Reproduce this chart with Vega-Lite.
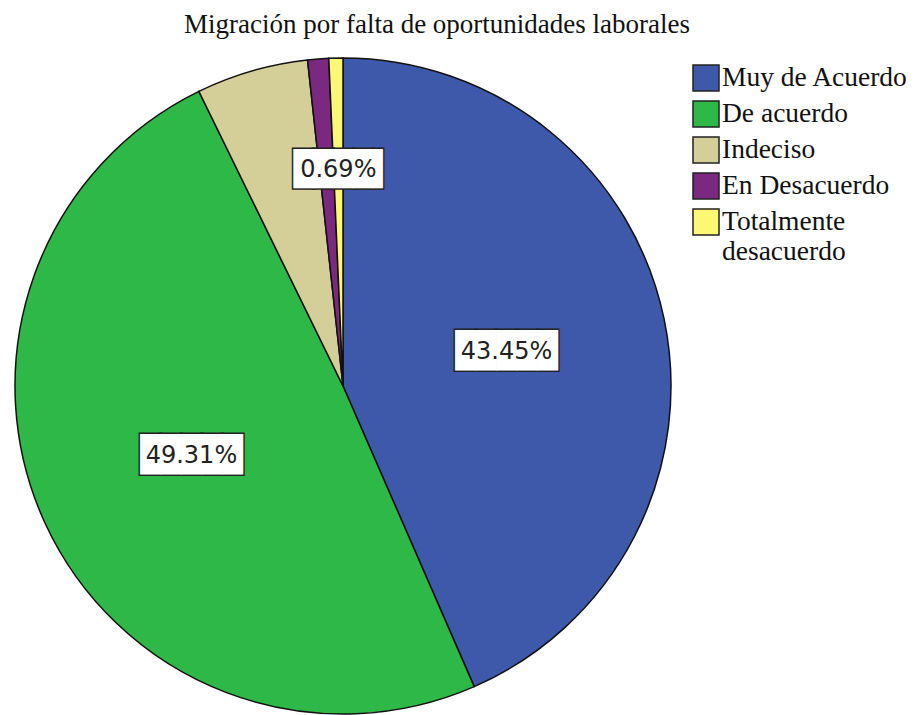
{
  "$schema": "https://vega.github.io/schema/vega-lite/v6.json",
  "autosize": {"type": "none"},
  "width": 686,
  "height": 656,
  "padding": {"left": 0, "top": 58, "right": 238, "bottom": 1},
  "background": "white",
  "title": {
    "text": "Migración por falta de oportunidades laborales",
    "font": "Liberation Serif",
    "fontSize": 27,
    "fontWeight": "normal",
    "color": "#111111",
    "anchor": "middle",
    "frame": "group",
    "baseline": "alphabetic",
    "offset": 25,
    "dx": 94,
    "dy": 30
  },
  "data": {
    "values": [
      {"cat": "Muy de Acuerdo", "n": 126, "ord": 1, "label": "43.45%"},
      {"cat": "De acuerdo", "n": 143, "ord": 2, "label": "49.31%"},
      {"cat": "Indeciso", "n": 16, "ord": 3, "label": ""},
      {"cat": "En Desacuerdo", "n": 3, "ord": 4, "label": ""},
      {"cat": "Totalmente desacuerdo", "n": 2, "ord": 5, "label": "0.69%"}
    ]
  },
  "encoding": {
    "theta": {"field": "n", "type": "quantitative", "stack": true},
    "order": {"field": "ord", "type": "quantitative"}
  },
  "layer": [
    {
      "mark": {"type": "arc", "outerRadius": 328, "stroke": "#111111", "strokeWidth": 1.5},
      "encoding": {
        "color": {
          "field": "cat",
          "type": "nominal",
          "sort": ["Muy de Acuerdo", "De acuerdo", "Indeciso", "En Desacuerdo", "Totalmente desacuerdo"],
          "scale": {
            "domain": ["Muy de Acuerdo", "De acuerdo", "Indeciso", "En Desacuerdo", "Totalmente desacuerdo"],
            "range": ["#3E58AA", "#2EB848", "#D4CE98", "#7A2880", "#FCF873"]
          },
          "legend": {
            "title": null,
            "orient": "none",
            "legendX": 692,
            "legendY": 6,
            "symbolType": "square",
            "symbolSize": 676,
            "symbolStrokeColor": "#222222",
            "symbolStrokeWidth": 1.5,
            "symbolOpacity": 1,
            "labelFont": "Liberation Serif",
            "labelFontSize": 27.5,
            "labelColor": "#111111",
            "labelLimit": 400,
            "labelOffset": 2,
            "rowPadding": 4,
            "labelExpr": "datum.label == 'Totalmente desacuerdo' ? ['Totalmente', 'desacuerdo'] : datum.label"
          }
        }
      }
    },
    {
      "mark": {"type": "text", "radius": 167, "font": "DejaVu Sans Mono", "fontSize": 34, "stroke": "#222222", "strokeWidth": 3, "fill": "#222222", "baseline": "middle", "align": "center"},
      "encoding": {
        "text": {"condition": {"test": "datum.ord <= 2", "value": "█████"}, "value": ""}
      }
    },
    {
      "mark": {"type": "text", "radius": 167, "font": "DejaVu Sans Mono", "fontSize": 34, "fill": "white", "baseline": "middle", "align": "center"},
      "encoding": {
        "text": {"condition": {"test": "datum.ord <= 2", "value": "█████"}, "value": ""}
      }
    },
    {
      "mark": {"type": "text", "radius": 167, "font": "DejaVu Sans", "fontSize": 24, "fill": "#222222", "baseline": "middle", "align": "center"},
      "encoding": {
        "text": {"condition": {"test": "datum.ord <= 2", "field": "label"}, "value": ""}
      }
    },
    {
      "mark": {"type": "text", "radius": 216, "dx": 5, "font": "DejaVu Sans Mono", "fontSize": 33, "stroke": "#222222", "strokeWidth": 3, "fill": "#222222", "baseline": "middle", "align": "center"},
      "encoding": {
        "text": {"condition": {"test": "datum.ord == 5", "value": "████▌"}, "value": ""}
      }
    },
    {
      "mark": {"type": "text", "radius": 216, "dx": 5, "font": "DejaVu Sans Mono", "fontSize": 33, "fill": "white", "baseline": "middle", "align": "center"},
      "encoding": {
        "text": {"condition": {"test": "datum.ord == 5", "value": "████▌"}, "value": ""}
      }
    },
    {
      "mark": {"type": "text", "radius": 216, "font": "DejaVu Sans", "fontSize": 24, "fill": "#222222", "baseline": "middle", "align": "center"},
      "encoding": {
        "text": {"condition": {"test": "datum.ord == 5", "field": "label"}, "value": ""}
      }
    }
  ]
}
